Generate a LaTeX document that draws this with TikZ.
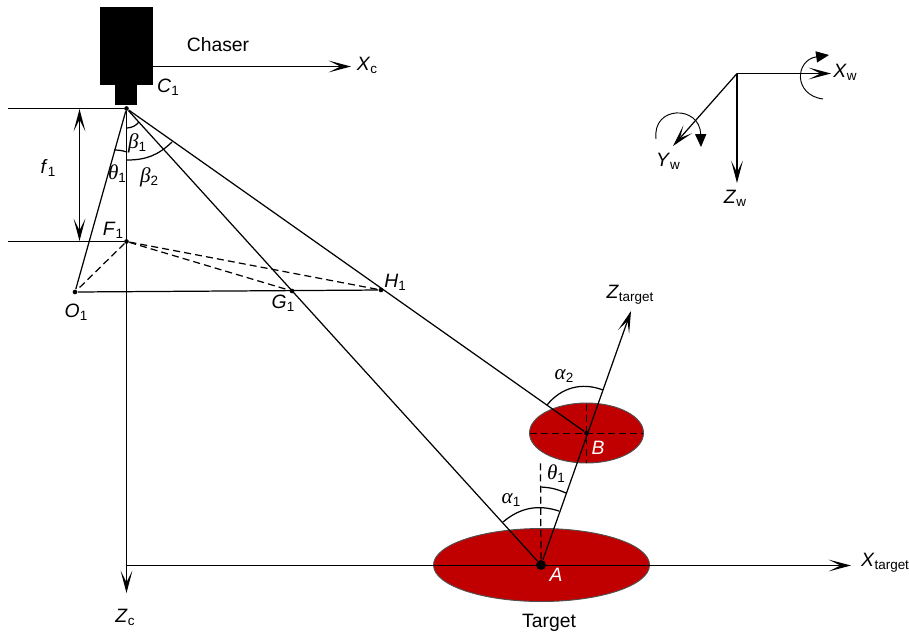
\documentclass[tikz,border=0pt]{standalone}
\usepackage{fontspec}
\setmainfont{Liberation Sans}
\newfontfamily\grk{Liberation Serif}
\usepackage{tikz}
\usetikzlibrary{arrows.meta,positioning,shapes.geometric}
\definecolor{my_red}{RGB}{192, 0, 0}
\definecolor{my_edge}{RGB}{80, 80, 80}
\newcommand{\lab}[2]{\textit{#1}\raisebox{-0.3ex}{\fontsize{11.5}{12}\selectfont #2}}
\newcommand{\gr}[2]{{\grk\fontsize{18}{20}\selectfont\textit{#1}}\raisebox{-0.3ex}{\fontsize{11.5}{12}\selectfont #2}}
\tikzset{
  barb/.tip = {Stealth[length=19pt, width=10pt, inset=10pt]},
  axis/.style = {-barb},
  fdouble/.style = {barb-barb},
  turn/.style = {-{Triangle[length=11pt, width=9.5pt]}, line width=0.8pt},
  dot/.style = {circle, fill=black, inner sep=0pt, minimum size=0.14cm},
  disc/.style = {ellipse, draw=my_edge, fill=my_red, inner sep=0pt, line width=0.8pt},
  guide/.style = {dash pattern=on 6pt off 3.5pt},
  tag/.style = {inner sep=0pt, font=\fontsize{16.5}{20}\selectfont}
}
\begin{document}
\begin{tikzpicture}[x=0.03cm, y=-0.03cm, line width=1.05pt]
  \useasboundingbox (0,0) rectangle (909,636);
  % camera
  \node [fill=black, inner sep=0pt, minimum width=1.59cm, minimum height=2.34cm] (body) at (126.5,46) {};
  \node [fill=black, inner sep=0pt, minimum width=0.66cm, minimum height=0.6cm] (lens) at (126,95) {};
  % target discs
  \node [disc, minimum width=6.48cm, minimum height=2.19cm] (discA) at (541.5,565) {};
  \node [disc, minimum width=3.42cm, minimum height=1.8cm] (discB) at (586.5,433) {};
  % points
  \node [dot] (C) at (126.5,108.5) {};
  \node [dot] (F) at (126.5,241.5) {};
  \node [dot] (O) at (75,292) {};
  \node [dot] (G) at (292,291) {};
  \node [dot] (H) at (381,290) {};
  \node [dot, minimum size=0.3cm] (A) at (541,565) {};
  \node [dot] (B) at (586.5,433) {};
  \coordinate (xcs) at (153,66.5);
  \coordinate (xce) at (351,66.5);
  \coordinate (l1) at (8,108.5);
  \coordinate (l2) at (8,241.5);
  \coordinate (f1) at (79.5,109);
  \coordinate (f2) at (79.5,241);
  \coordinate (zce) at (126.5,593);
  \coordinate (xts) at (126.5,565.5);
  \coordinate (xte) at (851,565.5);
  \coordinate (zte) at (631,311);
  % camera frame
  \draw [axis] (xcs) -- (xce);
  \draw (l1) -- (C);
  \draw (l2) -- (F);
  \draw [fdouble] (f1) -- (f2);
  \draw [axis] (C) -- (zce);
  \draw [axis] (xts) -- (xte);
  % rays
  \draw (C) -- (O);
  \draw (C) -- (A);
  \draw (C) -- (B);
  \draw (O) -- (H);
  \draw [guide] (F) -- (O);
  \draw [guide] (F) -- (G);
  \draw [guide] (F) -- (H);
  \draw [axis] (A) -- (zte);
  % dashed guides
  \coordinate (g1) at (540.5,463);
  \coordinate (b1) at (530,433.5);
  \coordinate (b2) at (643,433.5);
  \coordinate (b3) at (586.5,404);
  \coordinate (b4) at (586.5,463);
  \draw [guide] (A) -- (g1);
  \draw [guide] (b1) -- (b2);
  \draw [guide] (b3) -- (b4);
  % angle marks
  \draw (127,128) to[bend right=22] (139,122);
  \draw (127,160) to[bend right=22] (172,142);
  \draw (114,150) to[bend left=8] (127,152);
  \draw (503,522) to[bend left=29] (559,511);
  \draw (547,405) to[bend left=36] (603,390);
  \draw (541,487) to[bend left=10] (566,493);
  % world frame
  \coordinate (W) at (737,73.5);
  \coordinate (wx) at (831,73.5);
  \coordinate (wy) at (673,146);
  \coordinate (wz) at (737,183);
  \draw [axis] (W) -- (wx);
  \draw [axis] (W) -- (wy);
  \draw [axis] (W) -- (wz);
  \draw [turn] (823,99) .. controls (793,95) and (795,60) .. (829,55);
  \draw [turn] (656,139) .. controls (652,105) and (700,105) .. (701,147);
  % labels
  \node [tag] (chaser) at (218,45) {Chaser};
  \node [tag] (target) at (549,623) {Target};
  \node [tag] (lC) at (168,87) {\lab{C}{1}};
  \node [tag] (lXc) at (367,65) {\lab{X}{c}};
  \node [tag] (lf) at (48,168) {\lab{f}{1}};
  \node [tag] (lF) at (113,230) {\lab{F}{1}};
  \node [tag] (lO) at (76,312) {\lab{O}{1}};
  \node [tag] (lG) at (283,303) {\lab{G}{1}};
  \node [tag] (lH) at (395,282) {\lab{H}{1}};
  \node [tag] (lZc) at (125,617) {\lab{Z}{c}};
  \node [tag] (lXt) at (885,563) {\lab{X}{target}};
  \node [tag] (lZt) at (630,295) {\lab{Z}{target}};
  \node [tag] (lXw) at (845,72) {\lab{X}{w}};
  \node [tag] (lYw) at (668,161) {\lab{Y}{w}};
  \node [tag] (lZw) at (735,198) {\lab{Z}{w}};
  \node [tag, text=white] (lA) at (556,575) {\textit{A}};
  \node [tag, text=white] (lB) at (598,448) {\textit{B}};
  \node [tag] (lb1) at (137,143) {\gr{β}{1}};
  \node [tag] (lb2) at (149,177) {\gr{β}{2}};
  \node [tag] (lt1) at (117,174) {\gr{θ}{1}};
  \node [tag] (lt2) at (556,474) {\gr{θ}{1}};
  \node [tag] (la1) at (511,500) {\gr{α}{1}};
  \node [tag] (la2) at (564,376) {\gr{α}{2}};
\end{tikzpicture}
\end{document}
